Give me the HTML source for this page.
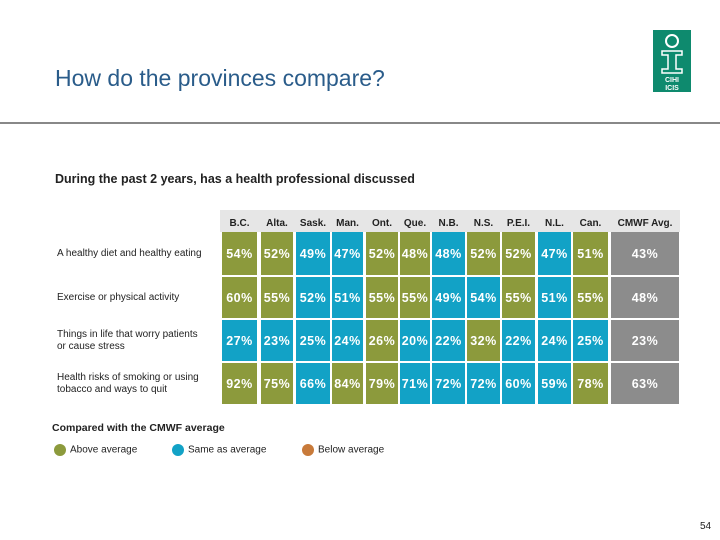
<!DOCTYPE html>
<html><head><meta charset="utf-8"><style>
body{margin:0;width:720px;height:540px;background:#fff;font-family:"Liberation Sans",sans-serif;position:relative;overflow:hidden}
.abs{position:absolute}
.cell{position:absolute;color:#fff;font-size:12.5px;font-weight:bold;display:flex;align-items:center;justify-content:center;letter-spacing:0.5px}
.hdr{position:absolute;font-size:10px;font-weight:bold;color:#222;text-align:center;top:218px}
.rl{position:absolute;left:57px;font-size:10px;color:#222;line-height:12px}
</style></head><body>
<div class="abs" style="left:55px;top:65px;font-size:23px;color:#2a5c8a">How do the provinces compare?</div>
<div class="abs" style="left:0;top:122px;width:720px;height:2px;background:#888"></div>
<div class="abs" style="left:653px;top:30px;width:38px;height:62px;background:#0e8a6e">
<svg width="38" height="62"><circle cx="19" cy="11" r="6" fill="none" stroke="#fff" stroke-width="2"/><path d="M9 21h20v4h-6v14h6v4H9v-4h6V25H9z" fill="none" stroke="#fff" stroke-width="1.5"/><text x="19" y="52" font-size="7" fill="#fff" text-anchor="middle" font-weight="bold" font-family="Liberation Sans">CIHI</text><text x="19" y="60" font-size="7" fill="#fff" text-anchor="middle" font-weight="bold" font-family="Liberation Sans">ICIS</text></svg></div>
<div class="abs" style="left:55px;top:172px;font-size:12.5px;font-weight:bold;color:#222">During the past 2 years, has a health professional discussed</div>
<div class="abs" style="left:220px;top:210px;width:460px;height:22px;background:#e6e6e6"></div>
<div id="tbl"></div>
<div class="abs" style="left:52px;top:422px;font-size:10.5px;font-weight:bold;color:#222">Compared with the CMWF average</div>
<div class="abs" style="left:54px;top:444px;font-size:10px;color:#222"><span style="display:inline-block;width:12px;height:12px;border-radius:50%;background:#8c9a3c;vertical-align:middle;margin-right:4px"></span>Above average</div>
<div class="abs" style="left:172px;top:444px;font-size:10px;color:#222"><span style="display:inline-block;width:12px;height:12px;border-radius:50%;background:#12a2c6;vertical-align:middle;margin-right:4px"></span>Same as average</div>
<div class="abs" style="left:302px;top:444px;font-size:10px;color:#222"><span style="display:inline-block;width:12px;height:12px;border-radius:50%;background:#c87a3a;vertical-align:middle;margin-right:4px"></span>Below average</div>
<div class="abs" style="left:700px;top:521px;font-size:10px;color:#222">54</div>
<script>
const cols=["B.C.","Alta.","Sask.","Man.","Ont.","Que.","N.B.","N.S.","P.E.I.","N.L.","Can.","CMWF Avg."];
const rows=["A healthy diet and healthy eating","Exercise or physical activity","Things in life that worry patients<br>or cause stress","Health risks of smoking or using<br>tobacco and ways to quit"];
const values=[[54,52,49,47,52,48,48,52,52,47,51,43],[60,55,52,51,55,55,49,54,55,51,55,48],[27,23,25,24,26,20,22,32,22,24,25,23],[92,75,66,84,79,71,72,72,60,59,78,63]];
const status=[["a","a","s","s","a","a","s","a","a","s","a","g"],["a","a","s","s","a","a","s","s","a","s","a","g"],["s","s","s","s","a","s","s","a","s","s","s","g"],["a","a","s","a","a","s","s","s","s","s","a","g"]];
const xs=[[222,257],[261,293],[296,330],[332,363],[366,398],[400,430],[432,465],[467,500],[502,535],[538,571],[573,608],[611,679]];
const ys=[[232,275],[277,318],[320,361],[363,404]];
const colr={a:"#8c9a3c",s:"#12a2c6",g:"#8c8c8c"};
const t=document.getElementById('tbl');
cols.forEach((c,i)=>{const d=document.createElement('div');d.className='hdr';


d.style.left=xs[i][0]+'px';d.style.width=(xs[i][1]-xs[i][0])+'px';d.textContent=c;t.appendChild(d);});
rows.forEach((r,j)=>{const l=document.createElement('div');l.className='rl';


l.innerHTML=r;const n=r.includes('<br>')?2:1;l.style.top=((ys[j][0]+ys[j][1])/2-6*n)+'px';t.appendChild(l);
values[j].forEach((v,i)=>{const c=document.createElement('div');c.className='cell';


c.style.left=xs[i][0]+'px';c.style.width=(xs[i][1]-xs[i][0])+'px';c.style.top=ys[j][0]+'px';c.style.height=(ys[j][1]-ys[j][0])+'px';c.style.background=colr[status[j][i]];c.textContent=v+'%';t.appendChild(c);});});
</script>
</body></html>
